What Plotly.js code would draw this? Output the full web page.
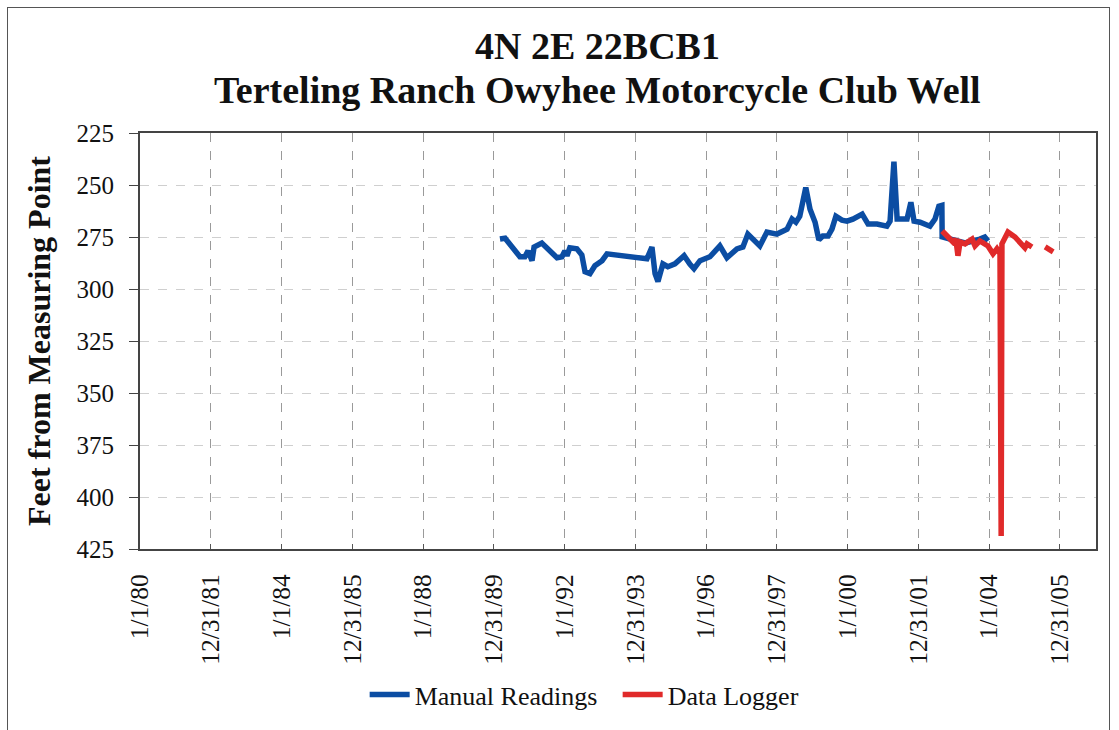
<!DOCTYPE html>
<html>
<head>
<meta charset="utf-8">
<script src="https://cdn.plot.ly/plotly-3.0.1.min.js"></script>
<style>
  html, body { margin: 0; padding: 0; background: #fff; }
  #chart { width: 1119px; height: 730px; position: relative; }
  #frame { position: absolute; left: 7px; top: 7px; width: 1103px; height: 760px;
           border: 1.5px solid #555; pointer-events: none; box-sizing: border-box; }
</style>
</head>
<body>
<div id="chart"></div>
<div id="frame"></div>
<script>
// Manual readings (blue)
const manualDates = [
  '1990-03-05','1990-04-27','1990-09-27','1990-11-17','1990-12-20','1991-01-30','1991-02-20','1991-05-11',
  '1991-10-15','1991-12-05','1992-01-04','1992-01-26','1992-02-24','1992-05-07','1992-06-27','1992-07-30',
  '1992-09-19','1992-11-09','1993-01-22','1993-03-14','1994-04-30','1994-06-21','1994-07-23','1994-08-22',
  '1994-10-12','1994-12-02','1995-02-13','1995-05-19','1995-07-19','1995-08-29','1995-10-30','1996-02-09',
  '1996-05-22','1996-08-03','1996-11-14','1997-01-15','1997-03-07','1997-05-01','1997-07-09','1997-09-20',
  '1998-01-01','1998-04-16','1998-06-06','1998-07-16','1998-08-25','1998-10-26','1998-12-09','1999-01-30',
  '1999-03-10','1999-04-20','1999-06-13','1999-07-23','1999-09-02','1999-11-03','1999-12-25','2000-02-24',
  '2000-05-30','2000-07-30','2000-10-30','2001-02-09','2001-03-14','2001-04-23','2001-05-26','2001-09-05',
  '2001-10-15','2001-11-17','2002-01-18','2002-04-30','2002-06-21','2002-07-31','2002-08-31','2002-09-03',
  '2003-04-27','2003-09-27','2003-11-17','2003-12-20'
];
const manualFeet = [
  276.0, 275.6, 284.5, 284.5, 281.7, 286.4, 279.8, 277.9,
  285.0, 284.5, 281.7, 284.0, 280.2, 280.7, 283.6, 291.7,
  292.6, 288.8, 286.4, 283.1, 285.5, 279.8, 292.6, 296.4,
  287.9, 289.3, 287.9, 284.0, 288.1, 290.2, 286.4, 284.5,
  279.3, 285.0, 280.7, 279.8, 273.6, 276.0, 279.3, 272.6,
  273.6, 271.2, 266.4, 267.9, 265.0, 251.2, 261.7, 267.9,
  276.4, 274.5, 274.5, 271.2, 265.0, 266.9, 267.4, 266.4,
  264.0, 268.8, 268.8, 269.8, 267.4, 238.8, 266.4, 266.4,
  258.3, 267.4, 267.9, 269.8, 266.4, 260.2, 259.8, 275.0,
  277.9, 276.0, 275.0, 276.9
];

// Data logger (red)
const loggerDates = [
  '2002-09-03','2002-11-03','2002-12-24','2003-01-22','2003-02-13','2003-03-07','2003-04-27','2003-07-09',
  '2003-08-08','2003-09-27','2003-12-20','2004-02-10','2004-03-21','2004-04-22','2004-05-04','2004-05-12',
  '2004-07-13','2004-09-24','2004-11-14','2005-01-04','2005-01-26','2005-03-18','2005-05-20','2005-08-01',
  '2005-10-23'
];
const loggerFeet = [
  272.1, 275.0, 277.4, 276.0, 284.0, 277.4, 278.3, 276.0,
  279.3, 276.9, 279.3, 283.1, 280.7, 283.1, 418.8, 278.3,
  272.6, 275.0, 277.4, 280.2, 278.3, 279.8, null, 279.8,
  282.1
];

// Axis ticks
const xTickVals = ['1980-01-01','1981-12-31','1984-01-01','1985-12-31','1988-01-01','1989-12-31','1992-01-01',
                   '1993-12-31','1996-01-01','1997-12-31','2000-01-01','2001-12-31','2004-01-01','2005-12-31'];
const xTickText = ['1/1/80','12/31/81','1/1/84','12/31/85','1/1/88','12/31/89','1/1/92',
                   '12/31/93','1/1/96','12/31/97','1/1/00','12/31/01','1/1/04','12/31/05'];
const yTickVals = [225, 250, 275, 300, 325, 350, 375, 400, 425];

// Title lines
const titleLines = ['4N 2E 22BCB1', 'Terteling Ranch Owyhee Motorcycle Club Well'];

const serif = 'Liberation Serif, Times New Roman, serif';

const traces = [
  { x: manualDates, y: manualFeet, type: 'scatter', mode: 'lines', name: 'Manual Readings',
    line: { color: '#0b4da3', width: 5.5 } },
  { x: loggerDates, y: loggerFeet, type: 'scatter', mode: 'lines', name: 'Data Logger',
    connectgaps: false, line: { color: '#e02a2a', width: 5.5 } }
];

const layout = {
  width: 1119, height: 730,
  paper_bgcolor: '#ffffff', plot_bgcolor: '#ffffff',
  margin: { l: 140, r: 23, t: 133, b: 177 },
  annotations: [
    { text: '<b>' + titleLines[0] + '</b>', xref: 'paper', yref: 'paper', x: 0.479, y: 1.2095,
      xanchor: 'center', yanchor: 'middle', showarrow: false,
      font: { family: serif, size: 38, color: '#111' } },
    { text: '<b>' + titleLines[1] + '</b>', xref: 'paper', yref: 'paper', x: 0.479, y: 1.1024,
      xanchor: 'center', yanchor: 'middle', showarrow: false,
      font: { family: serif, size: 38, color: '#111' } }
  ],
  xaxis: {
    type: 'date',
    range: ['1980-01-01', '2007-01-08'],
    tickmode: 'array', tickvals: xTickVals, ticktext: xTickText,
    tickangle: -90,
    tickfont: { family: serif, size: 25.5, color: '#111' },
    ticks: 'inside', ticklen: 5, tickcolor: '#555',
    ticklabelstandoff: 13,
    showgrid: true, gridcolor: '#9a9a9a', griddash: 'dash', gridwidth: 1,
    showline: true, linecolor: '#444', linewidth: 2, mirror: true,
    zeroline: false
  },
  yaxis: {
    range: [425, 225],
    tickmode: 'array', tickvals: yTickVals,
    tickfont: { family: serif, size: 25, color: '#111' },
    ticks: 'outside', ticklen: 9, tickcolor: '#444',
    ticklabelstandoff: 10,
    showgrid: true, gridcolor: '#cfcfcf', griddash: 'dash', gridwidth: 1,
    showline: true, linecolor: '#444', linewidth: 2, mirror: true,
    zeroline: false,
    title: { text: '<b>Feet from Measuring Point</b>', font: { family: serif, size: 32, color: '#111' }, standoff: 16 }
  },
  showlegend: true,
  legend: {
    orientation: 'h', x: 0.235, xanchor: 'left', y: -0.35, yanchor: 'middle',
    font: { family: serif, size: 26, color: '#111' },
    bgcolor: 'rgba(0,0,0,0)', itemwidth: 40, tracegroupgap: 0,
    entrywidth: 198, entrywidthmode: 'pixels'
  }
};

Plotly.newPlot('chart', traces, layout, { displayModeBar: false, staticPlot: true });
</script>
</body>
</html>
